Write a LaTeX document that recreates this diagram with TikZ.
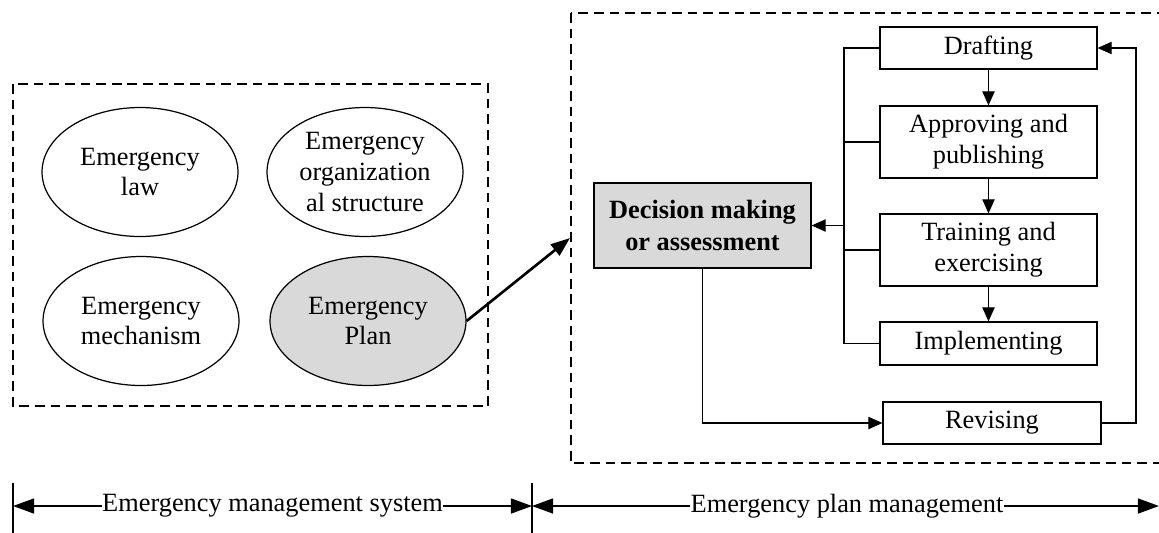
\documentclass[tikz,border=0pt]{standalone}
\usepackage{fontspec}
\setmainfont{Liberation Serif}
\usepackage{xcolor}
\usetikzlibrary{arrows.meta, shapes.geometric, calc, positioning}

\definecolor{shade}{RGB}{217,217,217}
\tikzset{
    blob/.style={ellipse, draw, line width=0.7pt, minimum width=3.92cm, minimum height=2.58cm, inner sep=0pt, align=center},
    stage/.style={rectangle, draw, line width=0.7pt, minimum width=4.34cm, inner sep=0pt, align=center},
    wire/.style={line width=0.7pt},
    flow/.style={line width=0.7pt, -{Triangle[length=8pt, width=7pt]}},
    span/.style={line width=1pt, -{Triangle[length=12pt, width=8.5pt]}},
    frame/.style={line width=0.7pt, dash pattern=on 5.5pt off 3.4pt},
    bar/.style={line width=1.2pt}
}

\begin{document}
\begin{tikzpicture}[x=0.02cm, y=-0.02cm, font=\fontsize{15}{17.5}\selectfont]
                        \useasboundingbox (0, 0) rectangle (1159, 532);
                        \clip (0, 0) rectangle (1159, 532);
                        \draw[frame] (13, 84) rectangle (488, 406);
                        \draw[frame] (571, 13) rectangle (1185, 463);
                        \node[blob] (law) at (140, 172) {Emergency\\law};
                        \node[blob] (org) at (365, 172) {Emergency\\organization\\al structure};
                        \node[blob] (mech) at (141, 321) {Emergency\\mechanism};
                        \node[blob, fill=shade] (plan) at (368, 321) {Emergency\\Plan};
                        \coordinate (tip) at (570, 238);
                        \draw[line width=1.5pt, -{Triangle[length=11pt, width=8pt]}] (plan.east) -- (tip);
                        \node[stage, fill=shade, minimum height=1.7cm, font=\fontsize{15}{18}\selectfont\bfseries] (dec) at (702.5, 225.5) {Decision making\\or assessment};
                        \node[stage, minimum height=0.84cm] (draft) at (988.5, 48) {Drafting};
                        \node[stage, minimum height=1.44cm] (appr) at (988.5, 142) {Approving and\\publishing};
                        \node[stage, minimum height=1.44cm] (train) at (988.5, 250) {Training and\\exercising};
                        \node[stage, minimum height=0.86cm] (impl) at (988.5, 343.5) {Implementing};
                        \node[stage, minimum width=4.36cm, minimum height=0.84cm] (rev) at (992, 423) {Revising};
                        \coordinate (bustop) at (844, 48);
                        \coordinate (busbot) at (844, 343.5);
                        \coordinate (busout) at (844, 225.5);
                        \coordinate (loop) at (1136, 423);
                        \draw[wire] (draft.west) -- (bustop) -- (busbot) -- (impl.west);
                        \draw[wire] (appr.west) -- (appr.west -| bustop);
                        \draw[wire] (train.west) -- (train.west -| bustop);
                        \draw[flow] (busout) -- (dec.east);
                        \draw
                        (draft) edge[flow] (appr)
                        (appr) edge[flow] (train)
                        (train) edge[flow] (impl);
                        \draw[flow] (dec.south) |- (rev.west);
                        \draw[flow] (rev.east) -- (loop) |- (draft.east);
                        \draw[bar] (13, 483) -- (13, 540);
                        \draw[bar] (532, 483) -- (532, 540);
                        \coordinate (sysL) at (13, 506);
                        \coordinate (sysR) at (532, 506);
                        \coordinate (planR) at (1159, 506);
                        \node[inner sep=0pt] (sys) at (272.5, 506) {Emergency management system};
                        \node[inner sep=0pt] (pm) at (847, 506) {Emergency plan management};
                        \draw[span] (sys.west) -- (sysL);
                        \draw[span] (sys.east) -- (sysR);
                        \draw[span] (pm.west) -- (sysR);
                        \draw[span] (pm.east) -- (planR);
                    \end{tikzpicture}
\end{document}
